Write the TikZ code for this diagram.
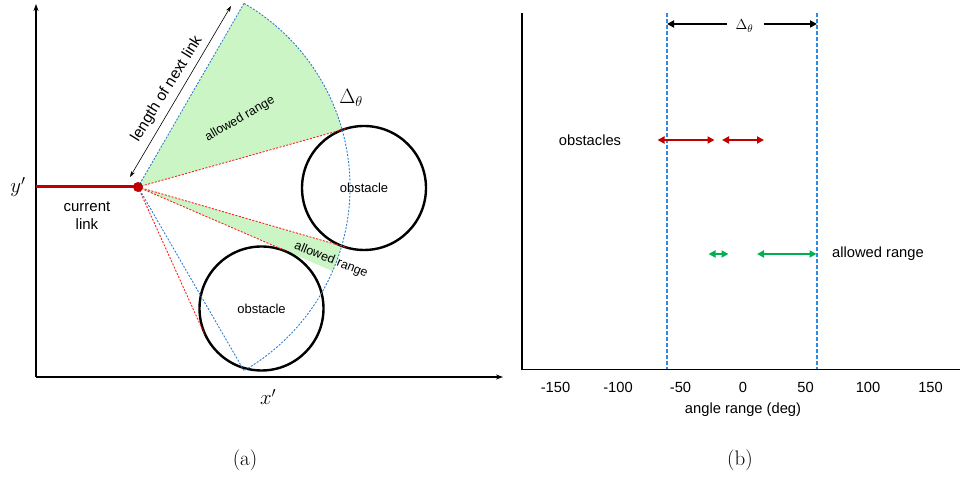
\documentclass[tikz,border=0pt]{standalone}
\usepackage{fontspec}
\setsansfont{Liberation Sans}
\usetikzlibrary{arrows.meta,calc}
\definecolor{linkred}{HTML}{C00000}
\definecolor{tanred}{HTML}{FF2020}
\definecolor{arcblue}{HTML}{2E7DD1}
\definecolor{vblue}{HTML}{2F8AE6}
\definecolor{okfill}{HTML}{CCF5C6}
\definecolor{okgreen}{HTML}{00B050}
\tikzset{
  axisline/.style={line width=1.4pt,-{Stealth[length=7pt,width=5pt]}},
  obst/.style={circle,draw=black,line width=2.4pt,minimum size=124pt,inner sep=0pt,font=\sffamily\fontsize{13}{15}\selectfont},
  tanline/.style={draw=tanred,dashed,dash pattern=on 2pt off 1.5pt,line width=0.9pt},
  blueline/.style={draw=arcblue,dashed,dash pattern=on 2pt off 1.5pt,line width=0.9pt},
  sflab/.style={font=\sffamily\fontsize{14.7}{17}\selectfont},
  rangearrow/.style={line width=2pt,{Triangle[length=7pt,width=7pt]}-{Triangle[length=7pt,width=7pt]}},
  bluevert/.style={draw=vblue,dash pattern=on 4pt off 2pt,line width=1.3pt},
  capt/.style={font=\fontsize{21}{24}\selectfont}
}
\begin{document}
\begin{tikzpicture}[x=1pt,y=1pt]
\useasboundingbox (0,0) rectangle (960,478);
% ---------------- panel (a) ----------------
\coordinate (P) at (138,291);
\coordinate (O) at (36,101);
\coordinate (Ytop) at (36,474);
\coordinate (Xend) at (503,101);
\coordinate (Lstart) at (36,291);
% green sectors
\fill[okfill] (P) -- ++(15.67:212) arc[start angle=15.67,end angle=60,radius=212] -- cycle;
\fill[okfill] (P) -- ++(-16.17:212) arc[start angle=-16.17,end angle=-23.38,radius=212] -- cycle;
% obstacles
\node[obst] (c1) at (364,290) {obstacle};
\node[obst] (c2) at (261.5,169.5) {obstacle};
% tangent lines
\coordinate (t1) at ($(P)+(15.67:217.3)$);
\coordinate (t2) at ($(P)+(-16.17:217.3)$);
\coordinate (t3) at ($(P)+(-23.38:161.6)$);
\coordinate (t4) at ($(P)+(-65.68:161.6)$);
\draw[tanline] (P) -- (t1);
\draw[tanline] (P) -- (t2);
\draw[tanline] (P) -- (t3);
\draw[tanline] (P) -- (t4);
% blue arc and bounds
\coordinate (a1) at ($(P)+(60:212)$);
\coordinate (a2) at ($(P)+(-60:212)$);
\draw[blueline] (P) -- (a1);
\draw[blueline] (P) -- (a2);
\draw[blueline] (a1) arc[start angle=60,end angle=-60,radius=212];
% axes
\draw[axisline] (O) -- (Ytop);
\draw[axisline] (O) -- (Xend);
% current link
\draw[linkred,line width=3pt] (Lstart) -- (P);
\fill[linkred] (P) circle (5pt);
\node[font=\sffamily\fontsize{15}{18}\selectfont,align=center] (cl) at (87,262) {current\\link};
\node[font=\fontsize{20}{22}\selectfont] (ylab) at (18,291) {$y'$};
\node[font=\fontsize{20}{22}\selectfont] (xlab) at (268,81) {$x'$};
% length arrow
\coordinate (la1) at (130,301);
\coordinate (la2) at (231,472);
\draw[line width=0.6pt,{Stealth[length=6pt,width=4pt]}-{Stealth[length=6pt,width=4pt]}] (la1) -- (la2);
\node[font=\sffamily\fontsize{15.5}{18}\selectfont,rotate=58] (lt) at (167,389) {length of next link};
\node[font=\sffamily\fontsize{12.5}{15}\selectfont,rotate=30] (ar1) at (240,359) {allowed range};
\node[font=\sffamily\fontsize{12.5}{15}\selectfont,rotate=-22] (ar2) at (331,218) {allowed range};
\node[font=\fontsize{20}{22}\selectfont] (dth) at (351,380) {$\Delta_\theta$};
\node[capt] (capa) at (245,18) {(a)};
% ---------------- panel (b) ----------------
\coordinate (B0) at (522,108.5);
\coordinate (Btop) at (522,465);
\coordinate (Bend) at (960,108.5);
\coordinate (vl1) at (667,465);
\coordinate (vl1b) at (667,108.5);
\coordinate (vl2) at (817,465);
\coordinate (vl2b) at (817,108.5);
\draw[bluevert] (vl1) -- (vl1b);
\draw[bluevert] (vl2) -- (vl2b);
\draw[line width=1.4pt] (Btop) -- (B0) -- (Bend);
\foreach \d in {-150,-100,-50,0,50,100,150}{
  \node[sflab] (tick\d) at ({743+1.25*\d},91) {\d};
}
\node[sflab] (xtitle) at (743,68) {angle range (deg)};
% delta theta arrows
\node[font=\fontsize{15}{17}\selectfont] (dth2) at (744.5,452) {$\Delta_\theta$};
\coordinate (da1) at (667,454);
\coordinate (da2) at (817,454);
\draw[line width=2pt,-{Triangle[length=7pt,width=7pt]}] (726.5,454) -- (da1);
\draw[line width=2pt,-{Triangle[length=7pt,width=7pt]}] (763.5,454) -- (da2);
% obstacles
\node[sflab] (obs) at (590,338) {obstacles};
\coordinate (o1a) at (657.5,338);
\coordinate (o1b) at (714.5,338);
\coordinate (o2a) at (722,338);
\coordinate (o2b) at (764,338);
\draw[rangearrow,linkred] (o1a) -- (o1b);
\draw[rangearrow,linkred] (o2a) -- (o2b);
% allowed
\node[sflab] (allw) at (878,224) {allowed range};
\coordinate (g1a) at (708.5,224);
\coordinate (g1b) at (728.5,224);
\coordinate (g2a) at (757,224);
\coordinate (g2b) at (816.5,224);
\draw[rangearrow,okgreen] (g1a) -- (g1b);
\draw[rangearrow,okgreen] (g2a) -- (g2b);
\node[capt] (capb) at (740,18) {(b)};
\end{tikzpicture}
\end{document}
